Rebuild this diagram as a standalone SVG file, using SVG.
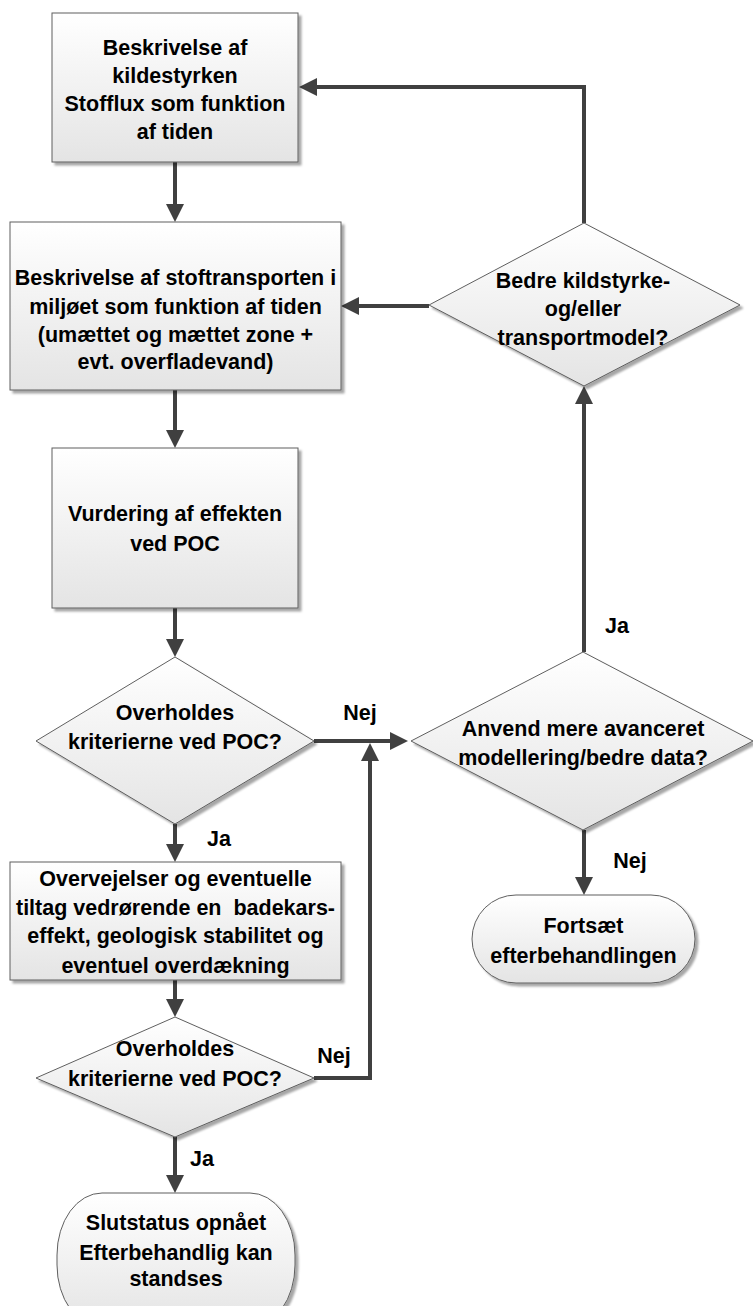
<svg xmlns="http://www.w3.org/2000/svg" width="753" height="1306" viewBox="0 0 753 1306">
<defs>
<style>
.shape{fill:url(#grad);stroke:#5f5f5f;stroke-width:1;filter:url(#shadow)}
.t{font-family:"Liberation Sans",Arial,sans-serif;font-weight:bold;font-size:21.5px;fill:#000;text-anchor:middle;white-space:pre}
.c{fill:none;stroke:#404040;stroke-width:4;marker-end:url(#arr)}
.cl{fill:none;stroke:#404040;stroke-width:4}
</style>
<linearGradient id="grad" x1="0" y1="0" x2="0" y2="1">
<stop offset="0" stop-color="#ffffff"/>
<stop offset="1" stop-color="#e4e4e4"/>
</linearGradient>
<filter id="shadow" x="-10%" y="-10%" width="125%" height="125%">
<feDropShadow dx="3" dy="3" stdDeviation="1.2" flood-color="#000" flood-opacity="0.35"/>
</filter>
<marker id="arr" markerUnits="userSpaceOnUse" markerWidth="18" markerHeight="18" refX="14" refY="9" orient="auto">
<path d="M0,0 L18,9 L0,18 z" fill="#404040"/>
</marker>
</defs>

<g id="connectors">
<path class="c" d="M175,162 V218"/>
<path class="c" d="M175,390 V444"/>
<path class="c" d="M175,608 V653"/>
<path class="c" d="M175,824 V858"/>
<path class="c" d="M175,980 V1013"/>
<path class="c" d="M175,1137 V1189"/>
<path class="c" d="M314,741 H404"/>
<path class="c" d="M314,1078 H370 V747"/>
<path class="c" d="M584,652 V390"/>
<path class="c" d="M584,830 V891"/>
<path class="c" d="M429,306 H345"/>
<path class="c" d="M584,223 V87 H303"/>
<text class="t" x="219" y="846">Ja</text>
<text class="t" x="360" y="720">Nej</text>
<text class="t" x="334" y="1063">Nej</text>
<text class="t" x="202" y="1166">Ja</text>
<text class="t" x="617" y="633">Ja</text>
<text class="t" x="630" y="868">Nej</text>
</g>

<g id="box1">
<rect class="shape" x="52" y="13" width="246" height="149"/>
<text class="t" x="175" y="55">Beskrivelse af</text>
<text class="t" x="175" y="83">kildestyrken</text>
<text class="t" x="175" y="111">Stofflux som funktion</text>
<text class="t" x="175" y="139">af tiden</text>
</g>

<g id="box2">
<rect class="shape" x="10" y="222" width="331" height="168"/>
<text class="t" x="175.5" y="285">Beskrivelse af stoftransporten i</text>
<text class="t" x="175.5" y="314">miljøet som funktion af tiden</text>
<text class="t" x="175.5" y="342">(umættet og mættet zone +</text>
<text class="t" x="175.5" y="369">evt. overfladevand)</text>
</g>

<g id="box3">
<rect class="shape" x="52" y="448" width="246" height="160"/>
<text class="t" x="175" y="521">Vurdering af effekten</text>
<text class="t" x="175" y="551">ved POC</text>
</g>

<g id="dec1">
<polygon class="shape" points="175,657 314,741 175,824 36,741"/>
<text class="t" x="175" y="720">Overholdes</text>
<text class="t" x="175" y="749">kriterierne ved POC?</text>
</g>

<g id="box4">
<rect class="shape" x="10" y="862" width="331" height="118"/>
<text class="t" x="175.5" y="886">Overvejelser og eventuelle</text>
<text class="t" x="175.5" y="915">tiltag vedrørende en  badekars-</text>
<text class="t" x="175.5" y="943">effekt, geologisk stabilitet og</text>
<text class="t" x="175.5" y="973">eventuel overdækning</text>
</g>

<g id="dec2">
<polygon class="shape" points="175,1017 314,1078 175,1137 36,1078"/>
<text class="t" x="175" y="1056">Overholdes</text>
<text class="t" x="175" y="1086">kriterierne ved POC?</text>
</g>

<g id="end1">
<rect class="shape" x="57" y="1193" width="238" height="134" rx="45" ry="62"/>
<text class="t" x="176" y="1230">Slutstatus opnået</text>
<text class="t" x="176" y="1260">Efterbehandlig kan</text>
<text class="t" x="176" y="1286">standses</text>
</g>

<g id="dec4">
<polygon class="shape" points="584,223 740,305 584,386 429,305"/>
<text class="t" x="583" y="288">Bedre kildstyrke-</text>
<text class="t" x="583" y="316">og/eller</text>
<text class="t" x="583" y="345">transportmodel?</text>
</g>

<g id="dec3">
<polygon class="shape" points="583,652 753,741 583,830 411,741"/>
<text class="t" x="583" y="736">Anvend mere avanceret</text>
<text class="t" x="583" y="765">modellering/bedre data?</text>
</g>

<g id="end2">
<rect class="shape" x="472" y="895" width="223" height="88" rx="44" ry="44"/>
<text class="t" x="583.5" y="933">Fortsæt</text>
<text class="t" x="583.5" y="963">efterbehandlingen</text>
</g>
</svg>
